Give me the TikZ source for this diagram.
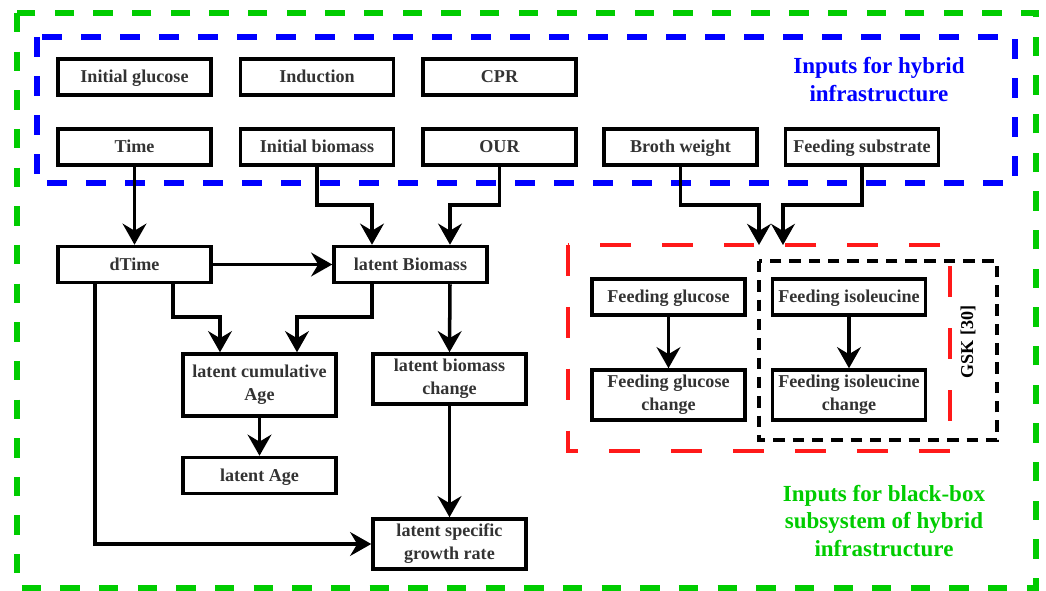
\documentclass[tikz,border=0pt]{standalone}
\usepackage{fontspec}
\setmainfont{Liberation Serif}
\usepackage{xcolor}
\usetikzlibrary{arrows.meta,calc}
\definecolor{inblue}{RGB}{0,0,255}
\definecolor{bbgreen}{RGB}{0,204,0}
\definecolor{feedred}{RGB}{255,25,25}

\begin{document}
\begin{tikzpicture}[x=0.02cm,y=-0.02cm,
    box/.style={draw=black,line width=2pt,minimum width=3.06cm,minimum height=0.72cm,
        inner sep=1pt,align=center,text=black!80,font=\fontsize{10.3}{13}\selectfont\bfseries},
    onebox/.style={box,text height=1.9ex,text depth=0.45ex},
    arr/.style={line width=2pt,-{Stealth[length=12pt,width=13.5pt,inset=4pt]}},
    biglabel/.style={align=center,font=\fontsize{13.1}{15.9}\selectfont\bfseries}]
    \useasboundingbox (0,0) rectangle (1046,591);
    % frames
    \draw[bbgreen,line width=3.4pt,dash pattern=on 11pt off 11pt] (17,13) rectangle (1036,588);
    \draw[inblue,line width=3.4pt,dash pattern=on 11.4pt off 10.8pt] (37,37) rectangle (1015,183);
    \draw[feedred,line width=2.3pt,dash pattern=on 17.6pt off 17.6pt] (568,245) rectangle (950,451);
    \draw[black,line width=2pt,dash pattern=on 6.5pt off 4.5pt] (759,261) rectangle (997,440);
    % define coordinates
    \coordinate (redA) at (759,245) ;
    \coordinate (redB) at (783,245) ;
    % inputs
    \node[onebox] (iglu) at (134.5,77) {Initial glucose};
    \node[onebox] (ind) at (317,77) {Induction};
    \node[onebox] (cpr) at (499.5,77) {CPR};
    \node[onebox] (time) at (134.5,147) {Time};
    \node[onebox] (ibio) at (317,147) {Initial biomass};
    \node[onebox] (our) at (499.5,147) {OUR};
    \node[onebox] (broth) at (680.5,147) {Broth weight};
    \node[onebox] (fsub) at (862,147) {Feeding substrate};
    % latent states
    \node[onebox] (dtime) at (134.5,264.5) {dTime};
    \node[onebox] (lbio) at (410.5,264.5) {latent Biomass};
    \node[box,minimum height=1.24cm] (lcage) at (259.5,385) {latent cumulative\\Age};
    \node[box,minimum height=1cm] (lbch) at (449.5,379) {latent biomass\\change};
    \node[onebox] (lage) at (259.5,475.5) {latent Age};
    \node[box,minimum height=1cm] (lsgr) at (449.5,544) {latent specific\\growth rate};
    % feeding
    \node[onebox] (fglu) at (668.5,297) {Feeding glucose};
    \node[box,minimum height=1cm] (fgch) at (668.5,395) {Feeding glucose\\change};
    \node[onebox] (fiso) at (849,297) {Feeding isoleucine};
    \node[box,minimum height=1cm] (fich) at (849,395) {Feeding isoleucine\\change};
    % labels
    \node[biglabel,text=inblue] (lblhyb) at (879,80) {Inputs for hybrid\\infrastructure};
    \node[biglabel,text=bbgreen] (lblbb) at (884,521) {Inputs for black-box\\subsystem of hybrid\\infrastructure};
    \node[rotate=90,font=\fontsize{10.3}{13}\selectfont\bfseries] (gsk) at (968,342) {GSK [30]};
    % connectors
    \draw[arr] (time) -- (dtime);
    \draw[arr] (ibio.south) -- ++(0,38) -| ($(lbio.north)+(-38.5,0)$);
    \draw[arr] (our.south) -- ++(0,38) -| ($(lbio.north)+(39.5,0)$);
    \draw[arr] (dtime) -- (lbio);
    \draw[arr] ($(dtime.south)+(-39.5,0)$) |- (lsgr.west);
    \draw[arr] ($(dtime.south)+(38.5,0)$) -- ++(0,33) -| ($(lcage.north)+(-39.5,0)$);
    \draw[arr] ($(lbio.south)+(-38.5,0)$) -- ++(0,33) -| ($(lcage.north)+(37.5,0)$);
    \draw[arr] ($(lbio.south)+(39.5,0)$) -- (lbch.north);
    \draw[arr] (lcage) -- (lage);
    \draw[arr] (lbch) -- (lsgr);
    \draw[arr] (broth.south) -- ++(0,38) -| (redA);
    \draw[arr] (fsub.south) -- ++(0,38) -| (redB);
    \draw[arr] (fglu) -- (fgch);
    \draw[arr] (fiso) -- (fich);
\end{tikzpicture}
\end{document}
